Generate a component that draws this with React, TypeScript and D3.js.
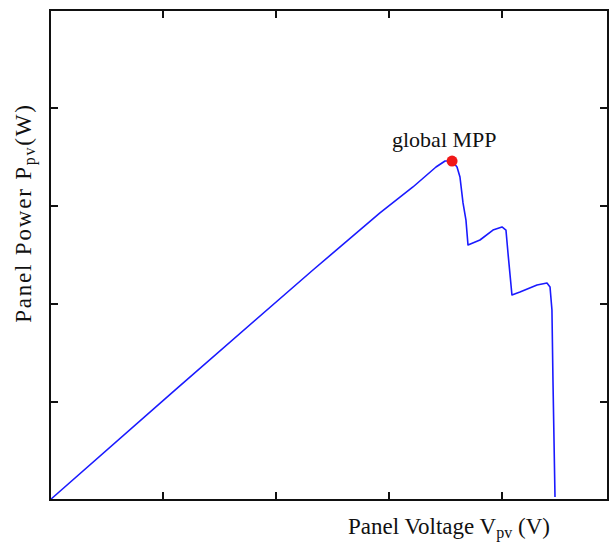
import React from "react";
import * as d3 from "d3";

// P-V curve under partial shading
const voltage = [0, 1.106, 2.327, 2.92, 3.212, 3.416, 3.496, 3.558, 3.602, 3.628, 3.655, 3.681, 3.699, 3.805, 3.92, 4.0, 4.035, 4.053, 4.088, 4.159, 4.31, 4.398, 4.425, 4.442, 4.451, 4.469];
const power = [0, 1.122, 2.347, 2.929, 3.194, 3.398, 3.459, 3.459, 3.398, 3.296, 3.031, 2.857, 2.602, 2.653, 2.755, 2.786, 2.755, 2.52, 2.092, 2.122, 2.194, 2.214, 2.173, 1.939, 1.224, 0.031];
const mpp = { v: 3.558, p: 3.459 };
const xTicks = [1, 2, 3, 4];
const yTicks = [1, 2, 3, 4];

const W = 609;
const H = 542;
const margin = { top: 10, right: 1, bottom: 42, left: 50 };

export default function App() {
  const iw = W - margin.left - margin.right;
  const ih = H - margin.top - margin.bottom;

  // 113 px per volt, the frame is cropped on the right
  const x = d3.scaleLinear().domain([0, iw / 113]).range([0, iw]);
  const y = d3.scaleLinear().domain([0, 5]).range([ih, 0]);

  const pts = voltage.map((v, i) => [v, power[i]] as [number, number]);
  const line = d3
    .line<[number, number]>()
    .x((d) => x(d[0]))
    .y((d) => y(d[1]));

  const tick = 8;
  const font = "'Liberation Serif', 'Times New Roman', serif";

  return (
    <svg width={W} height={H} style={{ position: "fixed", left: 0, top: 0, background: "#fff" }}>
      <g transform={`translate(${margin.left},${margin.top})`}>
        <path d={line(pts) || ""} fill="none" stroke="#1a1aff" strokeWidth={1.6} strokeLinejoin="round" />
        <circle cx={x(mpp.v)} cy={y(mpp.p)} r={5.5} fill="#f01818" />

        {/* frame */}
        <rect x={0} y={0} width={iw} height={ih} fill="none" stroke="#111" strokeWidth={2} />
        {xTicks.map((t) => (
          <g key={"x" + t} stroke="#111" strokeWidth={2}>
            <line x1={x(t)} x2={x(t)} y1={ih} y2={ih - tick} />
            <line x1={x(t)} x2={x(t)} y1={0} y2={tick} />
          </g>
        ))}
        {yTicks.map((t) => (
          <g key={"y" + t} stroke="#111" strokeWidth={2}>
            <line x1={0} x2={tick} y1={y(t)} y2={y(t)} />
            <line x1={iw} x2={iw - tick} y1={y(t)} y2={y(t)} />
          </g>
        ))}
      </g>

      <text x={392} y={147} fontFamily={font} fontSize={22} fill="#111">
        global MPP
      </text>

      <text x={348} y={534} fontFamily={font} fontSize={23} fill="#111">
        Panel Voltage V
        <tspan fontSize={16} dy={4}>pv</tspan>
        <tspan dy={-4}> (V)</tspan>
      </text>

      <text
        transform="translate(31,213) rotate(-90)"
        textAnchor="middle"
        fontFamily={font}
        fontSize={23}
        letterSpacing={1.8}
        fill="#111"
      >
        Panel Power P
        <tspan fontSize={16} dy={4}>pv</tspan>
        <tspan dy={-4}>(W)</tspan>
      </text>
    </svg>
  );
}
